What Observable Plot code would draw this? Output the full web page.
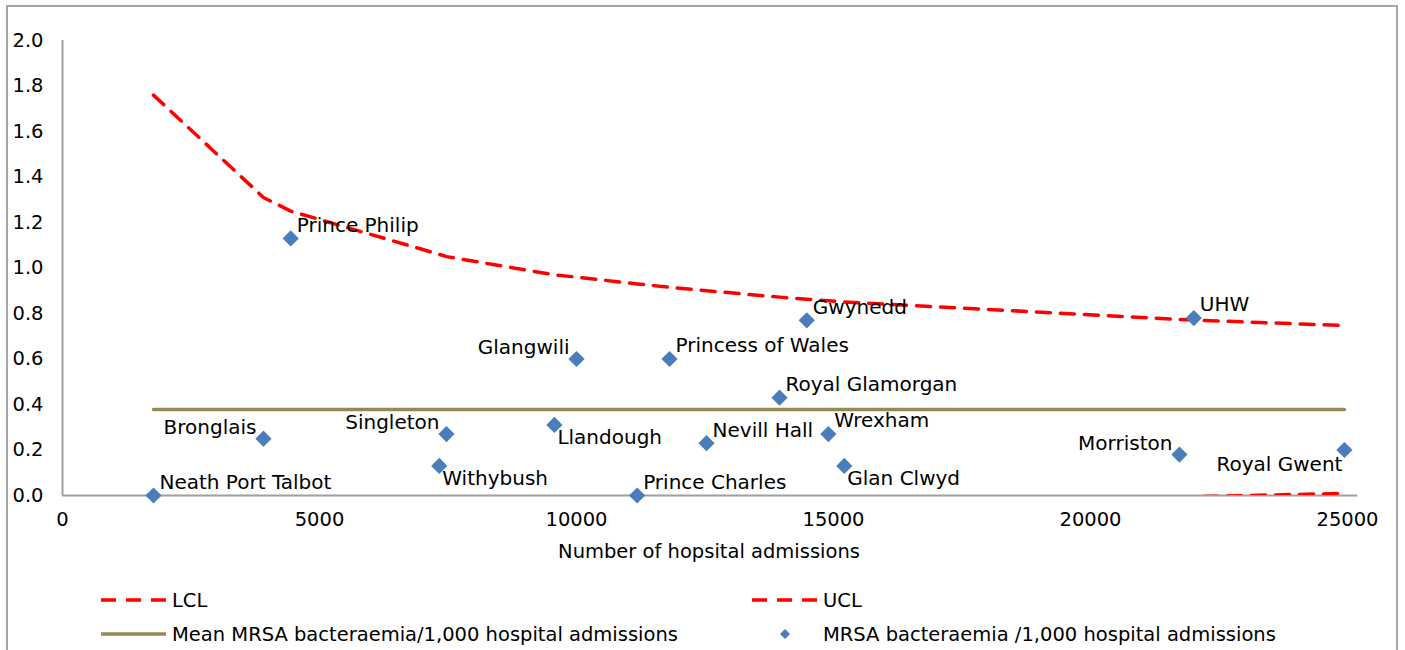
<!DOCTYPE html>
<html>
<head>
<meta charset="utf-8">
<script src="https://cdn.jsdelivr.net/npm/d3@7"></script>
<script src="https://cdn.jsdelivr.net/npm/@observablehq/plot@0.6"></script>
<style>
  html, body { margin: 0; padding: 0; background: #fff; }
  body { width: 1405px; height: 650px; overflow: hidden; position: relative; font-family: "DejaVu Sans", sans-serif; }
  #frame { position: absolute; left: 6px; top: 5px; width: 1392px; height: 700px; border: 2px solid #a6a6a6; box-sizing: border-box; }
  #chart { position: absolute; left: 0; top: 0; }
  #legend { position: absolute; left: 0; top: 570px; }
</style>
</head>
<body>
<div id="frame"></div>
<div id="chart"></div>
<div id="legend"></div>
<script>
// ---- data (hospitals ordered by number of admissions) ----
const hospitals = ["Neath Port Talbot", "Bronglais", "Prince Philip", "Withybush", "Singleton", "Llandough",
  "Glangwili", "Prince Charles", "Princess of Wales", "Nevill Hall", "Royal Glamorgan", "Gwynedd",
  "Wrexham", "Glan Clwyd", "Morriston", "UHW", "Royal Gwent"];
const admissions = [1770, 3910, 4440, 7330, 7470, 9570, 10000, 11180, 11810, 12530, 13950, 14480, 14900, 15210, 21730, 22010, 24940];
const mrsaRate = [0.00, 0.25, 1.13, 0.13, 0.27, 0.31, 0.60, 0.00, 0.60, 0.23, 0.43, 0.77, 0.27, 0.13, 0.18, 0.78, 0.20];
const labelSide = ["ne", "nw", "ne", "se", "nw", "se", "nw", "ne", "ne", "ne", "ne", "ne", "ne", "se", "nw", "ne", "sw"];
const ucl = [1.76, 1.31, 1.25, 1.06, 1.05, 0.97, 0.96, 0.93, 0.915, 0.90, 0.872, 0.863, 0.856, 0.851, 0.774, 0.771, 0.747];
const lcl = [-1.01, -0.56, -0.50, -0.30, -0.30, -0.22, -0.21, -0.17, -0.16, -0.14, -0.12, -0.11, -0.10, -0.095, -0.008, -0.005, 0.009];
const meanRate = 0.378;
const xTicks = [0, 5000, 10000, 15000, 20000, 25000];
const yTicks = [0, 0.2, 0.4, 0.6, 0.8, 1.0, 1.2, 1.4, 1.6, 1.8, 2.0];
const xTitle = "Number of hopsital admissions";
const legendItems = ["LCL", "UCL", "Mean MRSA bacteraemia/1,000 hospital admissions", "MRSA bacteraemia /1,000 hospital admissions"];

const data = hospitals.map((name, i) => ({
  name, n: admissions[i], rate: mrsaRate[i], side: labelSide[i], ucl: ucl[i], lcl: lcl[i], mean: meanRate
}));

const RED = "#ff0000", OLIVE = "#948a54", BLUE = "#4a7ebb", AXIS = "#a0a0a0";
const FONT = "19.5px";
const LABEL_FONT = "20px";
const sides = {
  ne: {dx: 6, dy: -13, textAnchor: "start"},
  nw: {dx: -7, dy: -11, textAnchor: "end"},
  se: {dx: 3, dy: 13, textAnchor: "start"},
  sw: {dx: -2, dy: 15, textAnchor: "end"}
};
const labelMarks = Object.entries(sides).map(([side, o]) =>
  Plot.text(data.filter(d => d.side === side), {
    x: "n", y: "rate", text: "name", dx: o.dx, dy: o.dy, textAnchor: o.textAnchor,
    fill: "#000", fontSize: LABEL_FONT
  })
);

const chart = Plot.plot({
  width: 1405,
  height: 570,
  marginLeft: 62,
  marginRight: 58,
  marginTop: 40,
  marginBottom: 75,
  style: {fontFamily: "DejaVu Sans, sans-serif", fontSize: FONT, color: "#000", background: "transparent", overflow: "visible"},
  x: {domain: [0, 25000]},
  y: {domain: [0, 2]},
  marks: [
    Plot.axisY({ticks: yTicks, tickSize: 0, tickPadding: 19, tickFormat: d => d.toFixed(1), label: null, fontSize: FONT}),
    Plot.axisX({ticks: xTicks, tickSize: 0, tickPadding: 17, tickFormat: d => String(d), label: null, fontSize: FONT}),
    Plot.text([xTitle], {frameAnchor: "bottom", dy: 56, dx: 4, lineAnchor: "middle", fontSize: FONT, fill: "#000"}),
    Plot.ruleX([0], {stroke: AXIS, strokeWidth: 2}),
    Plot.ruleY([0], {x1: 0, x2: 25200, stroke: AXIS, strokeWidth: 2}),
    Plot.lineY(data, {x: "n", y: "ucl", stroke: RED, strokeWidth: 3.5, strokeDasharray: "14,10", clip: true}),
    Plot.lineY(data, {x: "n", y: "lcl", stroke: RED, strokeWidth: 3.5, strokeDasharray: "14,10", clip: true}),
    Plot.lineY(data, {x: "n", y: "mean", stroke: OLIVE, strokeWidth: 3.5}),
    Plot.dot(data, {x: "n", y: "rate", symbol: "diamond2", r: 7.3, fill: BLUE, stroke: "none"}),
    ...labelMarks
  ]
});
document.getElementById("chart").appendChild(chart);

// ---- legend ----
const leg = d3.select("#legend").append("svg")
  .attr("width", 1405).attr("height", 80)
  .style("font-family", "DejaVu Sans, sans-serif").style("font-size", FONT);
const cols = [101, 752];
const rows = [30, 64];
const swW = 65, textGap = 6;
legendItems.forEach((label, i) => {
  const x0 = cols[i % 2], y0 = rows[Math.floor(i / 2)];
  const g = leg.append("g");
  if (i < 2) {
    g.append("line").attr("x1", x0).attr("x2", x0 + swW).attr("y1", y0).attr("y2", y0)
      .attr("stroke", RED).attr("stroke-width", 3.5).attr("stroke-dasharray", "15,10");
  } else if (i === 2) {
    g.append("line").attr("x1", x0).attr("x2", x0 + swW).attr("y1", y0).attr("y2", y0)
      .attr("stroke", OLIVE).attr("stroke-width", 3.5);
  } else {
    const cx = x0 + 33;
    g.append("path").attr("d", `M${cx},${y0 - 5}L${cx + 5},${y0}L${cx},${y0 + 5}L${cx - 5},${y0}Z`).attr("fill", BLUE);
  }
  g.append("text").attr("x", x0 + swW + textGap).attr("y", y0).attr("dy", "0.36em").attr("fill", "#000").text(label);
});
</script>
</body>
</html>
